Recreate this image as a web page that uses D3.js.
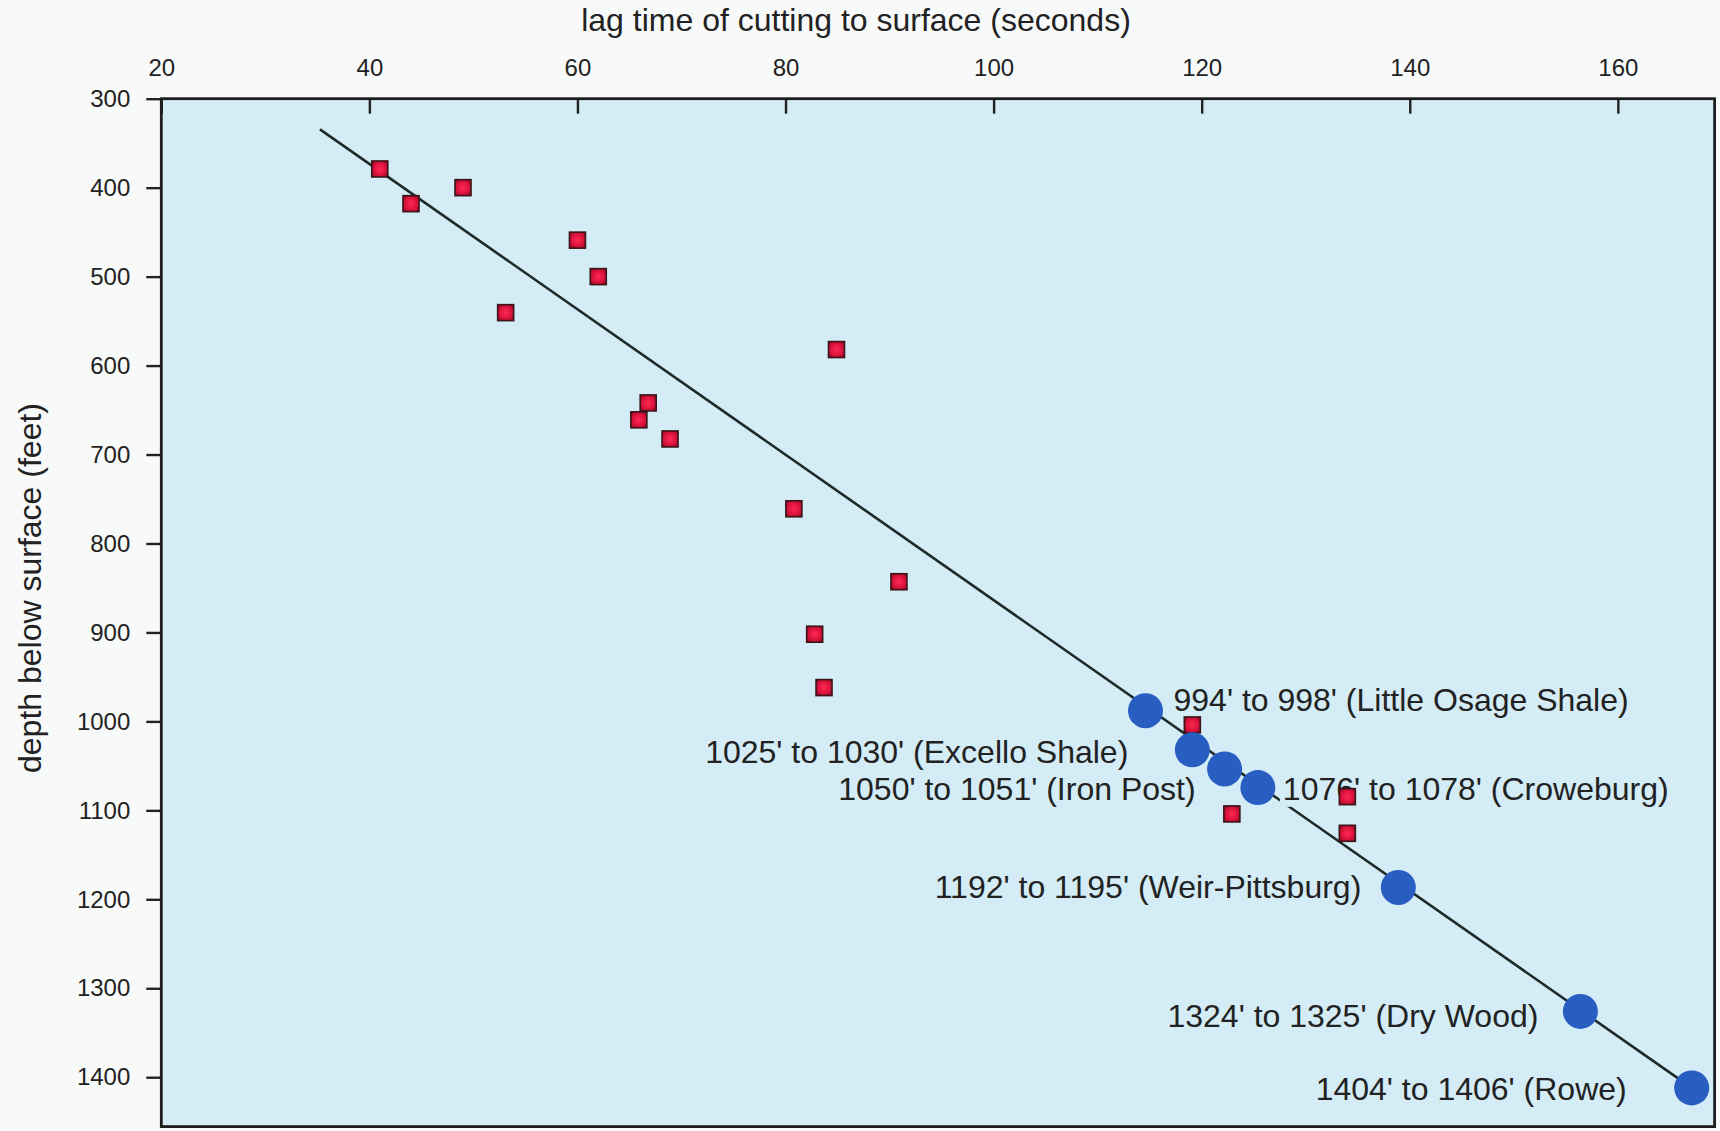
<!DOCTYPE html>
<html>
<head>
<meta charset="utf-8">
<script src="https://cdn.jsdelivr.net/npm/d3@7"></script>
<style>
  html, body { margin: 0; padding: 0; background: #f8f9f9; }
  svg { display: block; }
  text { font-family: "Liberation Sans", Arial, Helvetica, sans-serif; fill: #222; }
</style>
</head>
<body>
<svg id="chart" width="1720" height="1131"></svg>
<script>
// ---- data ----
const xTicks = [20, 40, 60, 80, 100, 120, 140, 160];
const yTicks = [300, 400, 500, 600, 700, 800, 900, 1000, 1100, 1200, 1300, 1400];

// lag-time samples (red squares)
const sampleLag   = [41, 44, 49, 60, 62, 53.1, 84.9, 66.8, 65.9, 68.9, 80.8, 90.9, 82.8, 83.7, 119.1, 134, 122.9, 134];
const sampleDepth = [379, 418, 400, 459, 500, 540.5, 582, 642, 661, 682.5, 761, 843, 902, 962, 1004, 1084.6, 1104, 1125.8];

// marker beds (blue circles)
const bedLabels = [
  "994' to 998' (Little Osage Shale)",
  "1025' to 1030' (Excello Shale)",
  "1050' to 1051' (Iron Post)",
  "1076' to 1078' (Croweburg)",
  "1192' to 1195' (Weir-Pittsburg)",
  "1324' to 1325' (Dry Wood)",
  "1404' to 1406' (Rowe)"
];
const bedLag   = [114.6, 119.1, 122.2, 125.4, 138.9, 156.4, 167.1];
const bedDepth = [988, 1032, 1053.5, 1074.4, 1186.7, 1326, 1412];

// trend line end points
const trendLag   = [35.25, 167.1];
const trendDepth = [334.5, 1412];

// ---- layout / style (not data) ----
const labelPlacement = [
  {anchor: "start", dx: 28,  dy: -11, box: false},
  {anchor: "end",   dx: -64, dy: 2,   box: false},
  {anchor: "end",   dx: -29, dy: 20,  box: false},
  {anchor: "start", dx: 25,  dy: 1,   box: true},
  {anchor: "end",   dx: -37, dy: -1,  box: false},
  {anchor: "end",   dx: -42, dy: 4,   box: false},
  {anchor: "end",   dx: -65, dy: 1,   box: false}
];

const svg = d3.select("#chart");
const plotBg = "#d3ecf5";

const x = d3.scaleLinear().domain([20, 169.3]).range([161.3, 1714.6]);
const y = d3.scaleLinear().domain([300, 1455.5]).range([98.7, 1126.6]);

const [x0, x1] = x.range();
const [y0, y1] = y.range();

const defs = svg.append("defs");
const grad = defs.append("radialGradient").attr("id", "sq").attr("cx", "50%").attr("cy", "50%").attr("r", "60%");
grad.append("stop").attr("offset", "0%").attr("stop-color", "#ff2a52");
grad.append("stop").attr("offset", "70%").attr("stop-color", "#d6103a");
grad.append("stop").attr("offset", "100%").attr("stop-color", "#9a0b28");

// plot background
svg.append("rect")
  .attr("x", x0).attr("y", y0)
  .attr("width", x1 - x0).attr("height", y1 - y0)
  .attr("fill", plotBg);

// trend line
svg.append("line")
  .attr("x1", x(trendLag[0])).attr("y1", y(trendDepth[0]))
  .attr("x2", x(trendLag[1])).attr("y2", y(trendDepth[1]))
  .attr("stroke", "#1e2a28").attr("stroke-width", 2.6);

// labels
const fontSize = 32;
const labG = svg.append("g");
bedLabels.forEach((t, i) => {
  const p = labelPlacement[i];
  const tx = x(bedLag[i]) + p.dx, ty = y(bedDepth[i]) + p.dy;
  const txt = labG.append("text")
    .attr("x", tx).attr("y", ty)
    .attr("dy", "0.35em")
    .attr("text-anchor", p.anchor)
    .attr("font-size", fontSize)
    .text(t);
  if (p.box) {
    const bb = txt.node().getBBox();
    labG.insert("rect", "text")
      .attr("x", bb.x - 3).attr("y", bb.y).attr("width", bb.width + 6).attr("height", bb.height)
      .attr("fill", plotBg);
  }
});

// squares
const sq = 16;
svg.append("g").selectAll("rect")
  .data(sampleLag.map((v, i) => [v, sampleDepth[i]]))
  .join("rect")
  .attr("x", d => x(d[0]) - sq / 2)
  .attr("y", d => y(d[1]) - sq / 2)
  .attr("width", sq).attr("height", sq)
  .attr("fill", "url(#sq)")
  .attr("stroke", "#3b1518").attr("stroke-width", 1.6);

// circles
svg.append("g").selectAll("circle")
  .data(bedLag.map((v, i) => [v, bedDepth[i]]))
  .join("circle")
  .attr("cx", d => x(d[0])).attr("cy", d => y(d[1]))
  .attr("r", 17.5)
  .attr("fill", "#285dc2");

// axes
const xAxis = d3.axisTop(x).tickValues(xTicks).tickSize(-15).tickPadding(23).tickFormat(d3.format("d"));
const gx = svg.append("g").attr("transform", `translate(0,${y0})`).call(xAxis);
gx.select(".domain").remove();
gx.selectAll(".tick line").attr("stroke", "#222").attr("stroke-width", 2.4);
gx.selectAll(".tick text").attr("font-size", 24).attr("fill", "#222")
  .attr("font-family", '"Liberation Sans", Arial, sans-serif');

const yAxis = d3.axisLeft(y).tickValues(yTicks).tickSize(15).tickPadding(16).tickFormat(d3.format("d"));
const gy = svg.append("g").attr("transform", `translate(${x0},0)`).call(yAxis);
gy.select(".domain").remove();
gy.selectAll(".tick line").attr("stroke", "#222").attr("stroke-width", 2.4);
gy.selectAll(".tick text").attr("font-size", 24).attr("fill", "#222")
  .attr("font-family", '"Liberation Sans", Arial, sans-serif');

// frame
svg.append("rect")
  .attr("x", x0).attr("y", y0)
  .attr("width", x1 - x0).attr("height", y1 - y0)
  .attr("fill", "none").attr("stroke", "#1e1e1e").attr("stroke-width", 2.8);

// axis titles
svg.append("text")
  .attr("x", 856).attr("y", 20).attr("dy", "0.35em")
  .attr("text-anchor", "middle").attr("font-size", 32)
  .text("lag time of cutting to surface (seconds)");

svg.append("text")
  .attr("transform", "translate(30,588) rotate(-90)")
  .attr("dy", "0.35em")
  .attr("text-anchor", "middle").attr("font-size", 32)
  .text("depth below surface (feet)");
</script>
</body>
</html>
